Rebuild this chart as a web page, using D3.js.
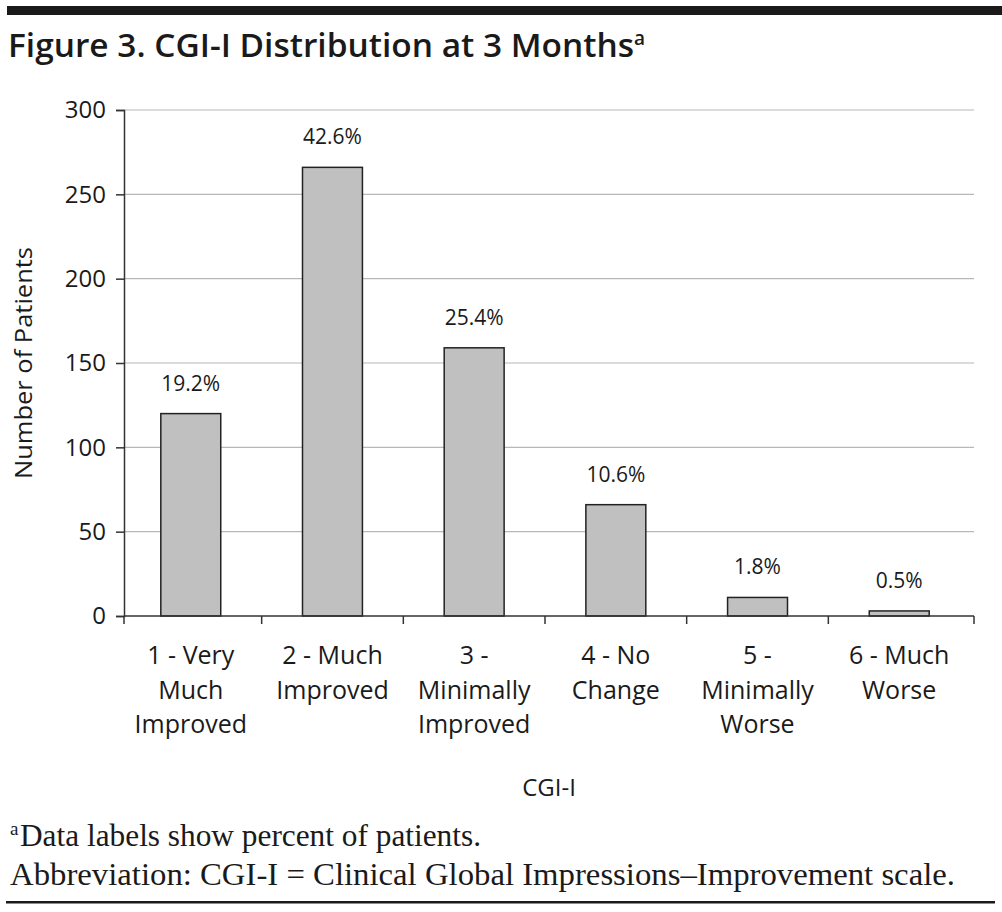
<!DOCTYPE html>
<html>
<head>
<meta charset="utf-8">
<script src="https://cdn.jsdelivr.net/npm/d3@7"></script>
<style>
  body { margin: 0; background: #fff; }
  svg { display: block; }
</style>
</head>
<body>
<div id="mychart"></div>
<script>
// CGI-I distribution bar chart

const categories = [
  ["1 - Very", "Much", "Improved"],
  ["2 - Much", "Improved"],
  ["3 -", "Minimally", "Improved"],
  ["4 - No", "Change"],
  ["5 -", "Minimally", "Worse"],
  ["6 - Much", "Worse"]
]
const patients = [120, 266, 159, 66, 11, 3]
const percentLabels = ["19.2%", "42.6%", "25.4%", "10.6%", "1.8%", "0.5%"]
const yTicks = [0, 50, 100, 150, 200, 250, 300]

const width = 1002
const height = 912

// plot frame
const axisLeft = 124
const axisRight = 974
const bandLeft = 120
const bandRight = 970
const plotTop = 110
const plotBottom = 616

const sansFont = "'Open Sans', 'Noto Sans', sans-serif"
const serifFont = "'Liberation Serif', 'DejaVu Serif', serif"
const ink = "#1a1a1a"

const svg = d3.select("#mychart")
  .append("svg")
  .attr("width", width)
  .attr("height", height)

// top rule and bottom rule
svg.append("rect")
  .attr("x", 7).attr("y", 6)
  .attr("width", width - 7).attr("height", 9)
  .attr("fill", ink)
svg.append("rect")
  .attr("x", 6).attr("y", 901)
  .attr("width", 989).attr("height", 2.5)
  .attr("fill", ink)

// title
svg.append("text")
  .attr("x", 8).attr("y", 57)
  .attr("font-family", sansFont)
  .attr("font-weight", 600)
  .attr("font-size", "33px")
  .attr("fill", ink)
  .attr("textLength", 626)
  .attr("lengthAdjust", "spacingAndGlyphs")
  .text("Figure 3. CGI-I Distribution at 3 Months")
svg.append("text")
  .attr("x", 634).attr("y", 45)
  .attr("font-family", sansFont)
  .attr("font-weight", 600)
  .attr("font-size", "19px")
  .attr("fill", ink)
  .text("a")

// scales
const xGroup = d3.scaleBand()
  .domain(d3.range(categories.length))
  .range([bandLeft, bandRight])

const xScale = d3.scaleBand()
  .domain(d3.range(categories.length))
  .range([bandLeft, bandRight])
  .paddingInner(0.577)
  .paddingOuter(0.288)

const yScale = d3.scaleLinear([0, 300], [plotBottom, plotTop])

// gridlines
svg.append("g")
  .selectAll("line")
  .data(yTicks.filter(d => d > 0))
  .join("line")
  .attr("x1", axisLeft).attr("x2", axisRight)
  .attr("y1", d => yScale(d)).attr("y2", d => yScale(d))
  .attr("stroke", "#b8b8b8")
  .attr("stroke-width", 1.2)

// y axis
const yAxis = d3.axisLeft(yScale).tickValues(yTicks).tickSize(8).tickPadding(10)
svg.append("g")
  .attr("transform", `translate(${axisLeft},0)`)
  .call(yAxis)
  .call(g => g.select(".domain").attr("stroke", "#333").attr("stroke-width", 1.5))
  .call(g => g.selectAll(".tick line").attr("stroke", "#333").attr("stroke-width", 1.5))
  .call(g => g.selectAll(".tick text")
    .attr("font-family", sansFont)
    .attr("font-size", "24px")
    .attr("fill", ink))

svg.append("text")
  .attr("transform", `translate(32,${(plotTop + plotBottom) / 2}) rotate(-90)`)
  .attr("text-anchor", "middle")
  .attr("font-family", sansFont)
  .attr("font-size", "24px")
  .attr("fill", ink)
  .attr("textLength", 232)
  .attr("lengthAdjust", "spacingAndGlyphs")
  .text("Number of Patients")

// bars
svg.append("g")
  .selectAll("rect")
  .data(patients)
  .join("rect")
  .attr("x", (d, i) => xScale(i))
  .attr("y", d => yScale(d))
  .attr("width", xScale.bandwidth())
  .attr("height", d => yScale(0) - yScale(d))
  .attr("fill", "#c0c0c0")
  .attr("stroke", "#222")
  .attr("stroke-width", 1.5)

// data labels
svg.append("g")
  .selectAll("text")
  .data(patients)
  .join("text")
  .attr("x", (d, i) => xScale(i) + xScale.bandwidth() / 2)
  .attr("y", d => yScale(d) - 23)
  .attr("text-anchor", "middle")
  .attr("font-family", sansFont)
  .attr("font-size", "21px")
  .attr("fill", ink)
  .text((d, i) => percentLabels[i])

// x axis
svg.append("line")
  .attr("x1", axisLeft).attr("x2", axisRight)
  .attr("y1", plotBottom).attr("y2", plotBottom)
  .attr("stroke", "#333").attr("stroke-width", 1.5)

const tickXs = [axisLeft].concat(d3.range(1, categories.length).map(i => xGroup(i)), [axisRight])
svg.append("g")
  .selectAll("line")
  .data(tickXs)
  .join("line")
  .attr("x1", d => d).attr("x2", d => d)
  .attr("y1", plotBottom).attr("y2", plotBottom + 8)
  .attr("stroke", "#333").attr("stroke-width", 1.5)

svg.append("g")
  .selectAll("text")
  .data(categories)
  .join("text")
  .attr("x", (d, i) => xGroup(i) + xGroup.bandwidth() / 2)
  .attr("y", 664)
  .attr("text-anchor", "middle")
  .attr("font-family", sansFont)
  .attr("font-size", "25px")
  .attr("fill", ink)
  .selectAll("tspan")
  .data(d => d)
  .join("tspan")
  .attr("x", function () { return this.parentNode.getAttribute("x") })
  .attr("dy", (d, i) => i === 0 ? 0 : 34.5)
  .text(d => d)

svg.append("text")
  .attr("x", 549).attr("y", 796)
  .attr("text-anchor", "middle")
  .attr("font-family", sansFont)
  .attr("font-size", "24px")
  .attr("fill", ink)
  .text("CGI-I")

// footnotes
svg.append("text")
  .attr("x", 10).attr("y", 835)
  .attr("font-family", serifFont)
  .attr("font-size", "19px")
  .attr("fill", ink)
  .text("a")
svg.append("text")
  .attr("x", 20).attr("y", 846)
  .attr("font-family", serifFont)
  .attr("font-size", "31px")
  .attr("fill", ink)
  .attr("textLength", 461)
  .attr("lengthAdjust", "spacingAndGlyphs")
  .text("Data labels show percent of patients.")
svg.append("text")
  .attr("x", 10).attr("y", 885)
  .attr("font-family", serifFont)
  .attr("font-size", "31px")
  .attr("fill", ink)
  .attr("textLength", 945)
  .attr("lengthAdjust", "spacingAndGlyphs")
  .text("Abbreviation: CGI-I = Clinical Global Impressions–Improvement scale.")
</script>
</body>
</html>
